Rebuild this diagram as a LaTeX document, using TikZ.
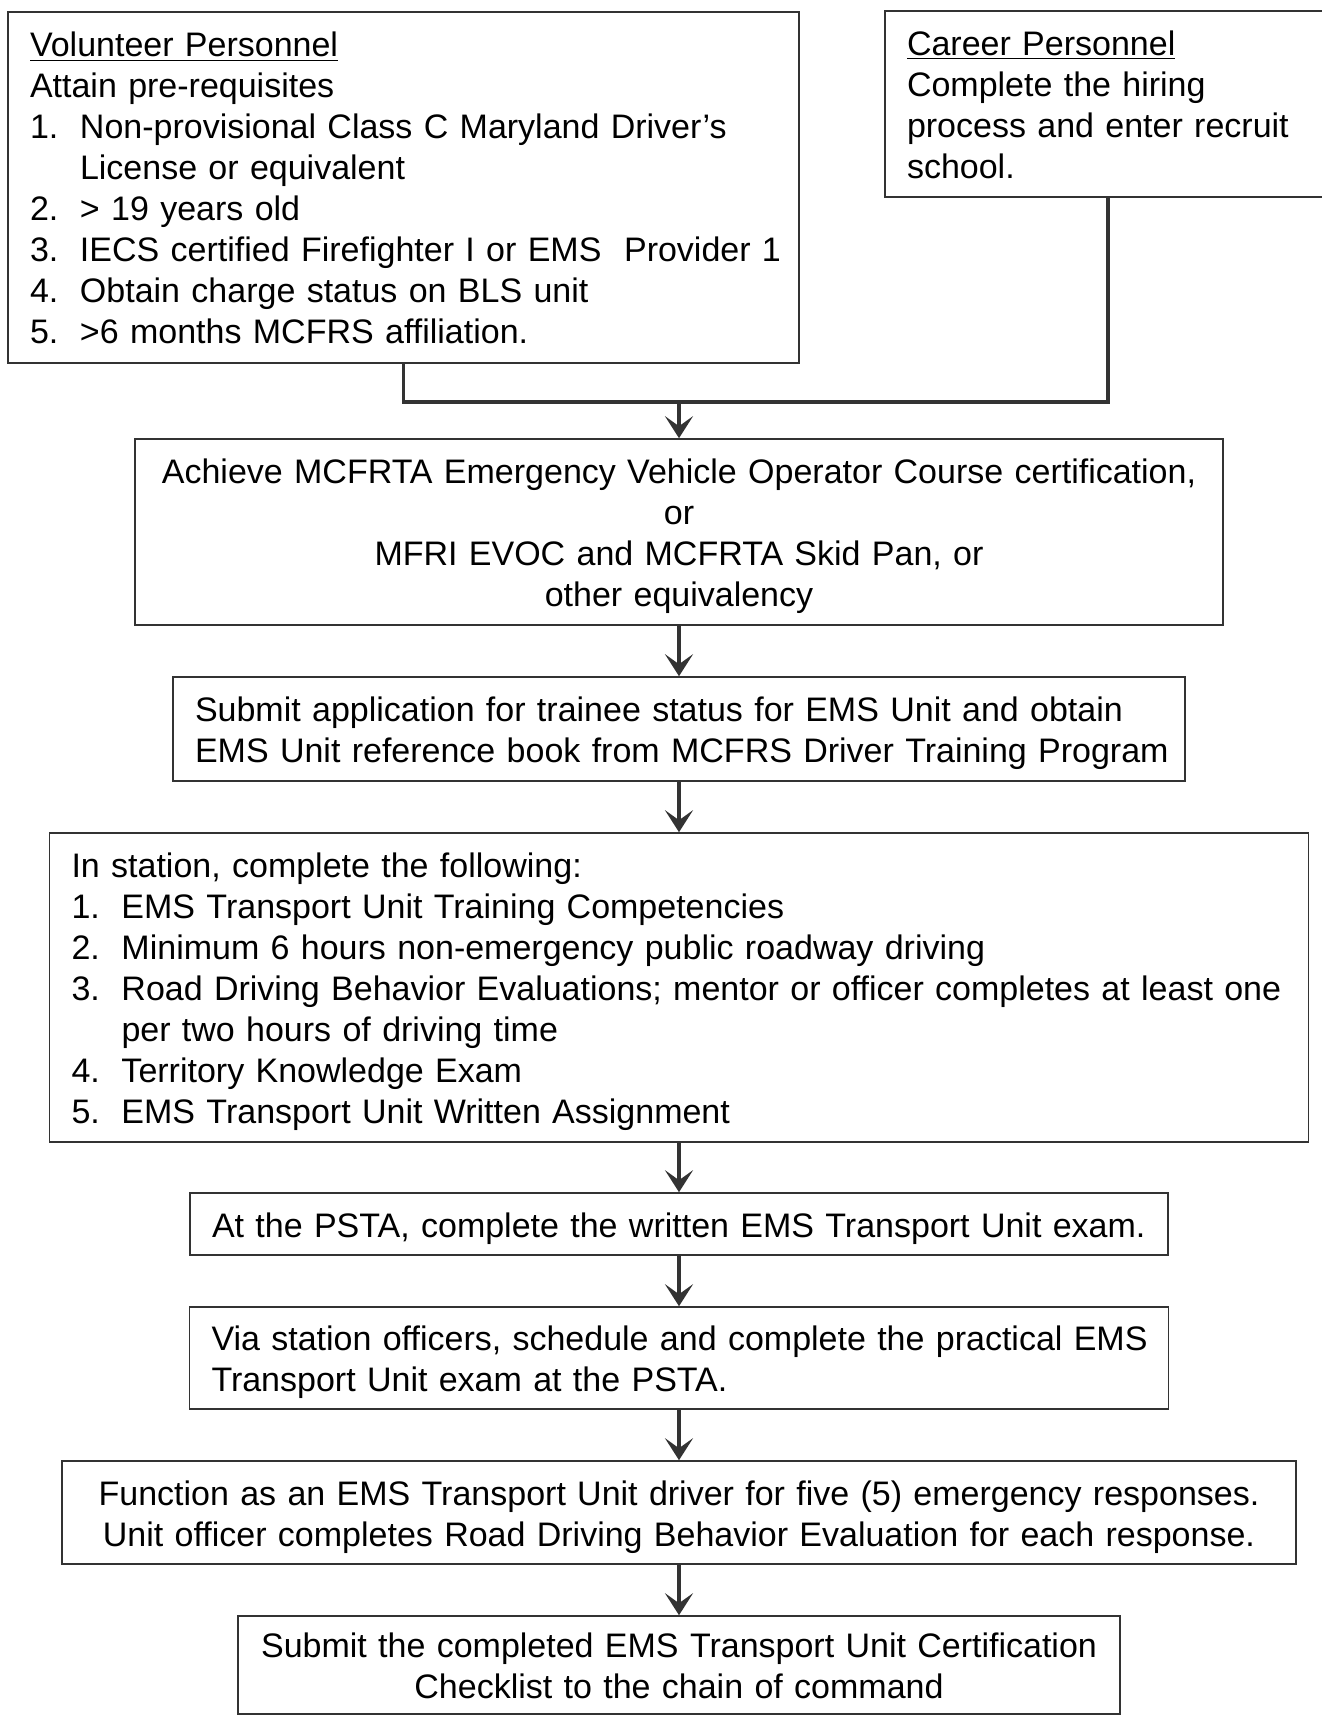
\documentclass[tikz,border=0pt]{standalone}
\usepackage{fontspec}
\setmainfont{Liberation Sans}
\usepackage{tikz}
\usetikzlibrary{arrows.meta}
\newcommand{\numitem}[1]{\makebox[25pt][l]{#1}}

\begin{document}
\begin{tikzpicture}[x=0.5pt, y=-0.5pt]

\tikzstyle{box}=[rectangle, draw=black!80, line width=0.8pt, inner xsep=11pt, inner ysep=0pt, align=left, font=\fontsize{17pt}{20.5pt}\selectfont,
  execute at begin node={\rule{0pt}{17pt}}, execute at end node={\rule[-4pt]{0pt}{4pt}}]
\tikzstyle{cbox}=[box, inner xsep=4pt, align=center]
\tikzstyle{link}=[draw=black!80, line width=1.7pt]
\tikzstyle{arrow}=[link, -{Stealth[length=11pt,width=14pt,inset=5pt]}]

\useasboundingbox (0,0) rectangle (1321,1716);

\node (vol) [box, text width=373.5pt, minimum height=175.5pt] at (403.5,187.5)
  {\underline{Volunteer Personnel}\\
   Attain pre-requisites\\
   \numitem{1.}Non-provisional Class C Maryland Driver's\\
   \numitem{}License or equivalent\\
   \numitem{2.}> 19 years old\\
   \mbox{\numitem{3.}IECS certified Firefighter I or EMS\ \ Provider 1}\\
   \numitem{4.}Obtain charge status on BLS unit\\
   \numitem{5.}>6 months MCFRS affiliation.};
\node (career) [box, text width=201pt, minimum height=93pt] at (1108,104)
  {\underline{Career Personnel}\\
   Complete the hiring\\
   process and enter recruit\\
   school.};

\node (evoc) [cbox, text width=536pt, minimum height=93pt] at (679,532)
  {Achieve MCFRTA Emergency Vehicle Operator Course certification,\\
   or\\
   MFRI EVOC and MCFRTA Skid Pan, or\\
   other equivalency};
\node (apply) [box, text width=484pt, minimum height=52pt] at (679,729)
  {Submit application for trainee status for EMS Unit and obtain\\
   \mbox{EMS Unit reference book from MCFRS Driver Training Program}};
\node (station) [box, text width=607.5pt, minimum height=154.5pt] at (679,987.5)
  {In station, complete the following:\\
   \numitem{1.}EMS Transport Unit Training Competencies\\
   \numitem{2.}Minimum 6 hours non-emergency public roadway driving\\
   \numitem{3.}Road Driving Behavior Evaluations; mentor or officer completes at least one\\
   \numitem{}per two hours of driving time\\
   \numitem{4.}Territory Knowledge Exam\\
   \numitem{5.}EMS Transport Unit Written Assignment};
\node (written) [box, text width=467pt, minimum height=31pt] at (679,1224)
  {At the PSTA, complete the written EMS Transport Unit exam.};
\node (practical) [box, text width=467.5pt, minimum height=51pt] at (679,1358)
  {\mbox{Via station officers, schedule and complete the practical EMS}\\
   Transport Unit exam at the PSTA.};
\node (function) [cbox, text width=609pt, minimum height=51.5pt] at (679,1512.5)
  {Function as an EMS Transport Unit driver for five (5) emergency responses.\\
   Unit officer completes Road Driving Behavior Evaluation for each response.};
\node (checklist) [cbox, text width=433pt, minimum height=49pt] at (679,1665)
  {Submit the completed EMS Transport Unit Certification\\
   Checklist to the chain of command};

\coordinate (join) at (679,402);
\draw[link] (vol.south) |- (join) -| (career.south);
\draw[arrow] (join) -- (evoc);
\draw[arrow] (evoc) -- (apply);
\draw[arrow] (apply) -- (station);
\draw[arrow] (station) -- (written);
\draw[arrow] (written) -- (practical);
\draw[arrow] (practical) -- (function);
\draw[arrow] (function) -- (checklist);
\end{tikzpicture}
\end{document}
